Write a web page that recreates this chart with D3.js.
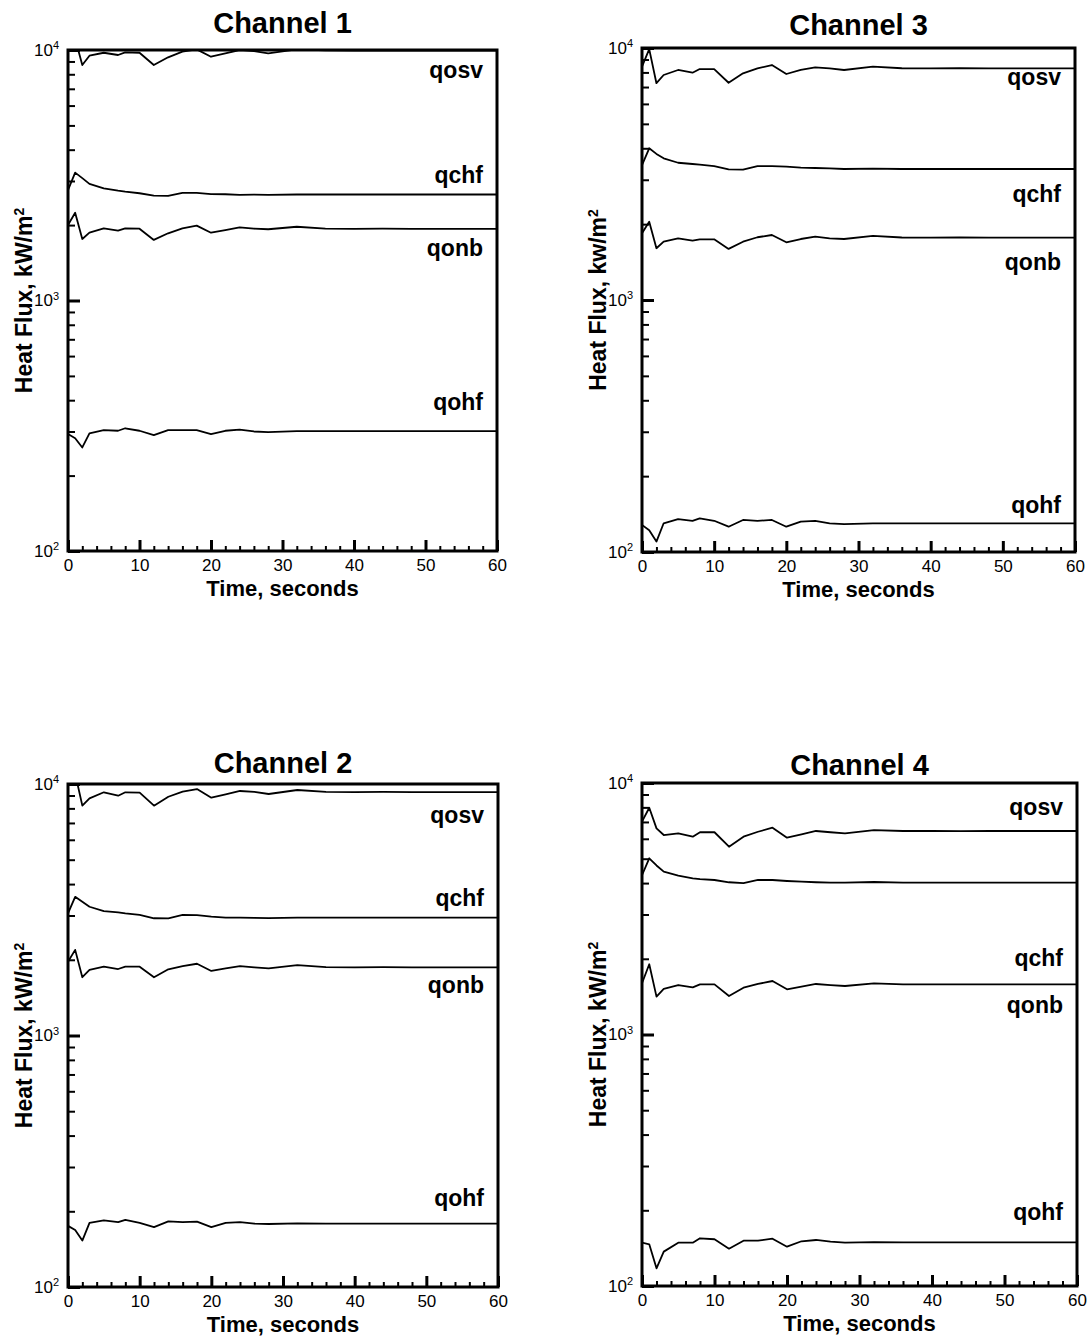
<!DOCTYPE html>
<html>
<head>
<meta charset="utf-8">
<script src="https://cdn.jsdelivr.net/npm/d3@7"></script>
<style>
  body { margin: 0; background: #fff; }
  svg { display: block; font-family: "Liberation Sans", Arial, Helvetica, sans-serif; }
</style>
</head>
<body>
<svg width="1090" height="1337"></svg>
<script>
// time axis, seconds
var times = [0, 1, 2, 3, 5, 7, 8, 10, 12, 14, 16, 18, 20, 22, 24, 26, 28, 32, 36, 40, 44, 48, 52, 56, 60];
var seriesNames = ["qosv", "qchf", "qonb", "qohf"];
var xTicks = [0, 10, 20, 30, 40, 50, 60];
var yTicks = [100, 1000, 10000];

// heat flux, kW/m2
var ch1Qosv = [10200, 11100, 8710, 9490, 9750, 9550, 9790, 9750, 8710, 9350, 9850, 10060, 9400, 9700, 10000, 9900, 9700, 10050, 9960, 9940, 9950, 9940, 9940, 9940, 9940];
var ch1Qchf = [2760, 3240, 3080, 2920, 2805, 2745, 2720, 2680, 2620, 2615, 2690, 2690, 2660, 2655, 2640, 2645, 2640, 2650, 2650, 2650, 2650, 2650, 2650, 2650, 2650];
var ch1Qonb = [2000, 2240, 1760, 1865, 1940, 1900, 1940, 1935, 1745, 1855, 1940, 1990, 1865, 1910, 1960, 1935, 1925, 1970, 1935, 1930, 1935, 1930, 1930, 1930, 1930];
var ch1Qohf = [293, 282, 259, 295, 304, 302, 309, 302, 290, 304, 304, 304, 293, 302, 305, 300, 298, 301, 301, 301, 301, 301, 301, 301, 301];

var ch2Qosv = [10200, 11000, 8200, 8770, 9270, 8985, 9270, 9235, 8200, 8900, 9320, 9550, 8820, 9100, 9380, 9300, 9125, 9465, 9300, 9290, 9300, 9290, 9290, 9290, 9290];
var ch2Qchf = [3060, 3560, 3400, 3250, 3125, 3090, 3060, 3015, 2925, 2920, 3015, 3010, 2970, 2940, 2940, 2935, 2930, 2945, 2940, 2940, 2940, 2940, 2940, 2940, 2940];
var ch2Qonb = [1966, 2190, 1705, 1822, 1877, 1838, 1877, 1877, 1705, 1833, 1889, 1929, 1806, 1850, 1889, 1867, 1850, 1906, 1870, 1867, 1870, 1867, 1867, 1867, 1867];
var ch2Qohf = [175, 168.5, 153, 180, 184, 181, 185, 180, 173, 182.5, 181, 182, 173, 180, 181, 178.5, 178, 179, 178.5, 178.5, 178.5, 178.5, 178.5, 178.5, 178.5];

var ch3Qosv = [8430, 9900, 7250, 7815, 8180, 7980, 8250, 8250, 7280, 7935, 8300, 8560, 7885, 8180, 8380, 8300, 8180, 8430, 8310, 8300, 8310, 8300, 8300, 8300, 8300];
var ch3Qchf = [3430, 4000, 3800, 3650, 3505, 3465, 3445, 3400, 3300, 3290, 3400, 3400, 3380, 3350, 3340, 3330, 3310, 3320, 3310, 3310, 3310, 3310, 3310, 3310, 3310];
var ch3Qonb = [1840, 2045, 1605, 1705, 1757, 1720, 1741, 1741, 1595, 1703, 1774, 1811, 1694, 1746, 1784, 1757, 1746, 1795, 1770, 1767, 1770, 1767, 1767, 1767, 1767];
var ch3Qohf = [128, 122, 110, 130, 135, 133, 136, 133, 126, 134, 133, 134, 126, 132, 133, 130, 129, 130, 130, 130, 130, 130, 130, 130, 130];

var ch4Qosv = [7020, 7975, 6600, 6210, 6310, 6115, 6370, 6370, 5580, 6115, 6400, 6640, 6060, 6250, 6445, 6370, 6310, 6500, 6445, 6445, 6440, 6445, 6445, 6445, 6445];
var ch4Qchf = [4300, 5020, 4700, 4440, 4280, 4180, 4150, 4115, 4030, 4000, 4115, 4115, 4077, 4050, 4030, 4020, 4015, 4040, 4014, 4014, 4014, 4014, 4014, 4014, 4014];
var ch4Qonb = [1598, 1902, 1414, 1517, 1573, 1540, 1583, 1583, 1423, 1535, 1588, 1632, 1512, 1549, 1588, 1573, 1559, 1598, 1583, 1583, 1583, 1583, 1583, 1583, 1583];
var ch4Qohf = [148.7, 146.5, 117.6, 137, 148.7, 148.7, 154.8, 153.4, 140.7, 151.4, 151.4, 154.2, 143.3, 150.6, 152.4, 150.1, 148.7, 149.5, 149.2, 149.2, 149.2, 149.2, 149.2, 149.2, 149.2];

var channels = [
  {title: "Channel 1", unit: "kW/m", series: [ch1Qosv, ch1Qchf, ch1Qonb, ch1Qohf]},
  {title: "Channel 3", unit: "kw/m", series: [ch3Qosv, ch3Qchf, ch3Qonb, ch3Qohf]},
  {title: "Channel 2", unit: "kW/m", series: [ch2Qosv, ch2Qchf, ch2Qonb, ch2Qohf]},
  {title: "Channel 4", unit: "kW/m", series: [ch4Qosv, ch4Qchf, ch4Qonb, ch4Qohf]}
];

// layout for each panel (plot box in page pixels, label nudges)
var layout = [
  {left: 68, top: 50, right: 497, bottom: 551, titleY: 33, labelDy: [27, -11, 27, -21]},
  {left: 642, top: 48, right: 1075, bottom: 552, titleY: 35, labelDy: [17, 33, 32, -10]},
  {left: 68, top: 784, right: 498, bottom: 1287, titleY: 773, labelDy: [31, -12, 26, -18]},
  {left: 642, top: 783, right: 1077, bottom: 1286, titleY: 775, labelDy: [-16, 83, 29, -22]}
];

var svg = d3.select("svg");
svg.append("rect").attr("width", 1090).attr("height", 1337).attr("fill", "#fff");

var minorY = [];
[100, 1000].forEach(function (d) {
  for (var m = 2; m <= 9; m++) minorY.push(d * m);
});
var minorX = d3.range(2, 60, 2).filter(function (d) { return d % 10 !== 0; });

channels.forEach(function (ch, i) {
  var L = layout[i];
  var x = d3.scaleLinear().domain([0, 60]).range([L.left, L.right]);
  var y = d3.scaleLog().domain([100, 10000]).range([L.bottom, L.top]);
  var g = svg.append("g");

  var clipId = "clip" + i;
  g.append("clipPath").attr("id", clipId)
    .append("rect")
    .attr("x", L.left).attr("y", L.top)
    .attr("width", L.right - L.left).attr("height", L.bottom - L.top);

  // minor ticks on the left
  var yMinor = g.append("g")
    .attr("transform", "translate(" + L.left + ",0)")
    .call(d3.axisLeft(y).tickValues(minorY).tickSize(-7).tickSizeOuter(0).tickFormat(""));
  yMinor.select(".domain").remove();
  yMinor.selectAll("line").attr("stroke-width", 2);

  // major ticks with 10^n labels
  var yMajor = g.append("g")
    .attr("transform", "translate(" + L.left + ",0)")
    .call(d3.axisLeft(y).tickValues(yTicks).tickSize(-12).tickSizeOuter(0).tickPadding(9));
  yMajor.select(".domain").remove();
  yMajor.selectAll("line").attr("stroke-width", 3);
  yMajor.selectAll("text")
    .attr("font-size", 17)
    .attr("fill", "#000")
    .text("10")
    .append("tspan")
    .attr("font-size", 11)
    .attr("dy", "-0.6em")
    .text(function (d) { return Math.round(Math.log10(d)); });

  // bottom ticks
  var xMinor = g.append("g")
    .attr("transform", "translate(0," + L.bottom + ")")
    .call(d3.axisBottom(x).tickValues(minorX).tickSize(-5).tickSizeOuter(0).tickFormat(""));
  xMinor.select(".domain").remove();
  xMinor.selectAll("line").attr("stroke-width", 2);

  var xMajor = g.append("g")
    .attr("transform", "translate(0," + L.bottom + ")")
    .call(d3.axisBottom(x).tickValues(xTicks).tickSize(-11).tickSizeOuter(0).tickPadding(8));
  xMajor.select(".domain").remove();
  xMajor.selectAll("line").attr("stroke-width", 3);
  xMajor.selectAll("text").attr("font-size", 17).attr("fill", "#000");

  // curves
  var line = d3.line()
    .x(function (d, k) { return x(times[k]); })
    .y(function (d) { return y(d); });

  g.append("g").attr("clip-path", "url(#" + clipId + ")")
    .selectAll("path")
    .data(ch.series)
    .join("path")
    .attr("fill", "none")
    .attr("stroke", "#000")
    .attr("stroke-width", 1.8)
    .attr("stroke-linejoin", "round")
    .attr("d", line);

  // series labels
  g.selectAll("text.series")
    .data(ch.series)
    .join("text")
    .attr("class", "series")
    .attr("x", L.right - 14)
    .attr("y", function (d, k) { return y(d[d.length - 1]) + L.labelDy[k]; })
    .attr("text-anchor", "end")
    .attr("font-size", 23)
    .attr("font-weight", "bold")
    .text(function (d, k) { return seriesNames[k]; });

  // frame
  g.append("rect")
    .attr("x", L.left).attr("y", L.top)
    .attr("width", L.right - L.left).attr("height", L.bottom - L.top)
    .attr("fill", "none")
    .attr("stroke", "#000")
    .attr("stroke-width", 3);

  // titles
  g.append("text")
    .attr("x", (L.left + L.right) / 2)
    .attr("y", L.titleY)
    .attr("text-anchor", "middle")
    .attr("font-size", 29)
    .attr("font-weight", "bold")
    .text(ch.title);

  g.append("text")
    .attr("x", (L.left + L.right) / 2)
    .attr("y", L.bottom + 44.5)
    .attr("text-anchor", "middle")
    .attr("font-size", 22)
    .attr("font-weight", "bold")
    .text("Time, seconds");

  var yl = g.append("text")
    .attr("transform", "translate(" + (L.left - 36) + "," + ((L.top + L.bottom) / 2) + ") rotate(-90)")
    .attr("text-anchor", "middle")
    .attr("font-size", 23)
    .attr("font-weight", "bold")
    .text("Heat Flux, " + ch.unit);
  yl.append("tspan")
    .attr("font-size", 14)
    .attr("dy", "-0.6em")
    .text("2");
});
</script>
</body>
</html>
